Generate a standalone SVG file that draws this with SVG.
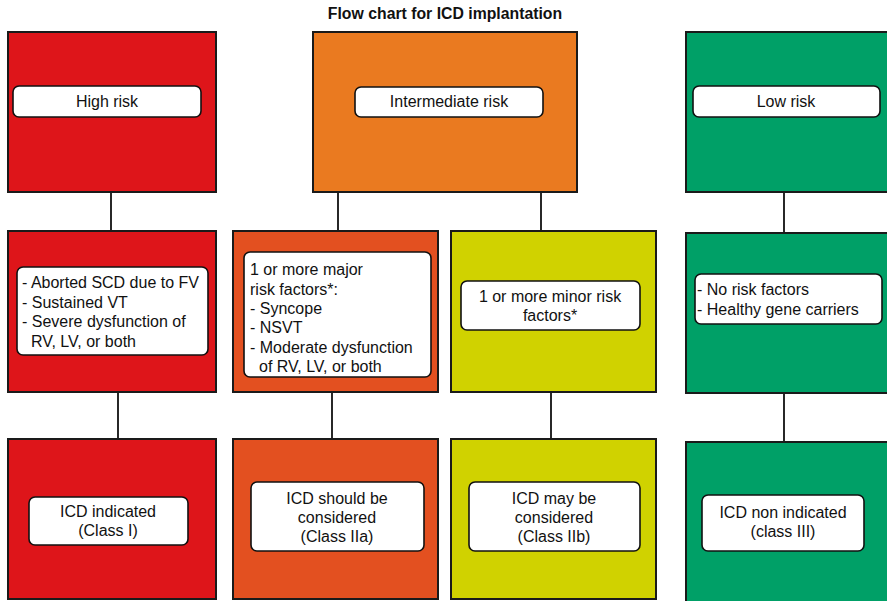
<svg xmlns="http://www.w3.org/2000/svg" width="887" height="601" viewBox="0 0 887 601">
<style>
.box{stroke:#1a1a1a;stroke-width:2}
.red{fill:#DE151A}
.org{fill:#EA7A20}
.org2{fill:#E35020}
.yel{fill:#D0D200}
.grn{fill:#00A067}
.lbl{fill:#fff;stroke:#111;stroke-width:1.6}
text{font-family:"Liberation Sans",Arial,Helvetica,sans-serif;font-size:16px;fill:#111}
.c{text-anchor:middle}
.title{font-weight:bold;font-size:15.8px}
.conn line{stroke:#111;stroke-width:1.8}
</style>
<rect width="887" height="601" fill="#fff"/>
<text class="title c" x="445" y="19">Flow chart for ICD implantation</text>

<g class="conn">
<line x1="111" y1="192" x2="111" y2="231"/>
<line x1="338" y1="192" x2="338" y2="231"/>
<line x1="541" y1="192" x2="541" y2="231"/>
<line x1="784" y1="192" x2="784" y2="233"/>
<line x1="118" y1="392" x2="118" y2="439"/>
<line x1="332" y1="392" x2="332" y2="439"/>
<line x1="551" y1="392" x2="551" y2="439"/>
<line x1="784" y1="393" x2="784" y2="442"/>
</g>

<g id="high-risk">
<rect class="box red" x="8" y="32" width="208" height="160"/>
<rect class="lbl" x="13" y="86" width="188" height="31" rx="6"/>
<text class="c" x="107" y="107">High risk</text>
</g>
<g id="intermediate-risk">
<rect class="box org" x="313" y="32" width="264" height="160"/>
<rect class="lbl" x="355" y="87" width="188" height="30" rx="6"/>
<text class="c" x="449" y="107">Intermediate risk</text>
</g>
<g id="low-risk">
<rect class="box grn" x="686" y="32" width="210" height="160"/>
<rect class="lbl" x="693" y="86" width="187" height="31" rx="6"/>
<text class="c" x="786" y="107">Low risk</text>
</g>

<g id="high-criteria">
<rect class="box red" x="8" y="231" width="208" height="161"/>
<rect class="lbl" x="17" y="267" width="191" height="88" rx="6"/>
<text x="22" y="288">- Aborted SCD due to FV</text>
<text x="22" y="308">- Sustained VT</text>
<text x="22" y="327">- Severe dysfunction of</text>
<text x="31" y="347">RV, LV, or both</text>
</g>
<g id="major-criteria">
<rect class="box org2" x="233" y="231" width="205" height="161"/>
<rect class="lbl" x="244" y="252" width="187" height="125" rx="6"/>
<text x="250" y="275">1 or more major</text>
<text x="250" y="295">risk factors*:</text>
<text x="250" y="314">- Syncope</text>
<text x="250" y="333">- NSVT</text>
<text x="250" y="353">- Moderate dysfunction</text>
<text x="259" y="372">of RV, LV, or both</text>
</g>
<g id="minor-criteria">
<rect class="box yel" x="451" y="231" width="205" height="161"/>
<rect class="lbl" x="461" y="281" width="179" height="49" rx="6"/>
<text class="c" x="550" y="302">1 or more minor risk</text>
<text class="c" x="550" y="321">factors*</text>
</g>
<g id="low-criteria">
<rect class="box grn" x="686" y="233" width="210" height="160"/>
<rect class="lbl" x="695" y="274" width="187" height="50" rx="6"/>
<text x="697" y="295">- No risk factors</text>
<text x="697" y="315">- Healthy gene carriers</text>
</g>

<g id="class-i">
<rect class="box red" x="8" y="439" width="208" height="160"/>
<rect class="lbl" x="29" y="497" width="159" height="48" rx="6"/>
<text class="c" x="108" y="517">ICD indicated</text>
<text class="c" x="108" y="536">(Class I)</text>
</g>
<g id="class-iia">
<rect class="box org2" x="233" y="439" width="205" height="160"/>
<rect class="lbl" x="251" y="482" width="173" height="69" rx="6"/>
<text class="c" x="337" y="504">ICD should be</text>
<text class="c" x="337" y="523">considered</text>
<text class="c" x="337" y="542">(Class IIa)</text>
</g>
<g id="class-iib">
<rect class="box yel" x="451" y="439" width="205" height="160"/>
<rect class="lbl" x="469" y="482" width="171" height="69" rx="6"/>
<text class="c" x="554" y="504">ICD may be</text>
<text class="c" x="554" y="523">considered</text>
<text class="c" x="554" y="542">(Class IIb)</text>
</g>
<g id="class-iii">
<rect class="box grn" x="686" y="442" width="210" height="170"/>
<rect class="lbl" x="702" y="495" width="162" height="56" rx="6"/>
<text class="c" x="783" y="518">ICD non indicated</text>
<text class="c" x="783" y="537">(class III)</text>
</g>
</svg>
